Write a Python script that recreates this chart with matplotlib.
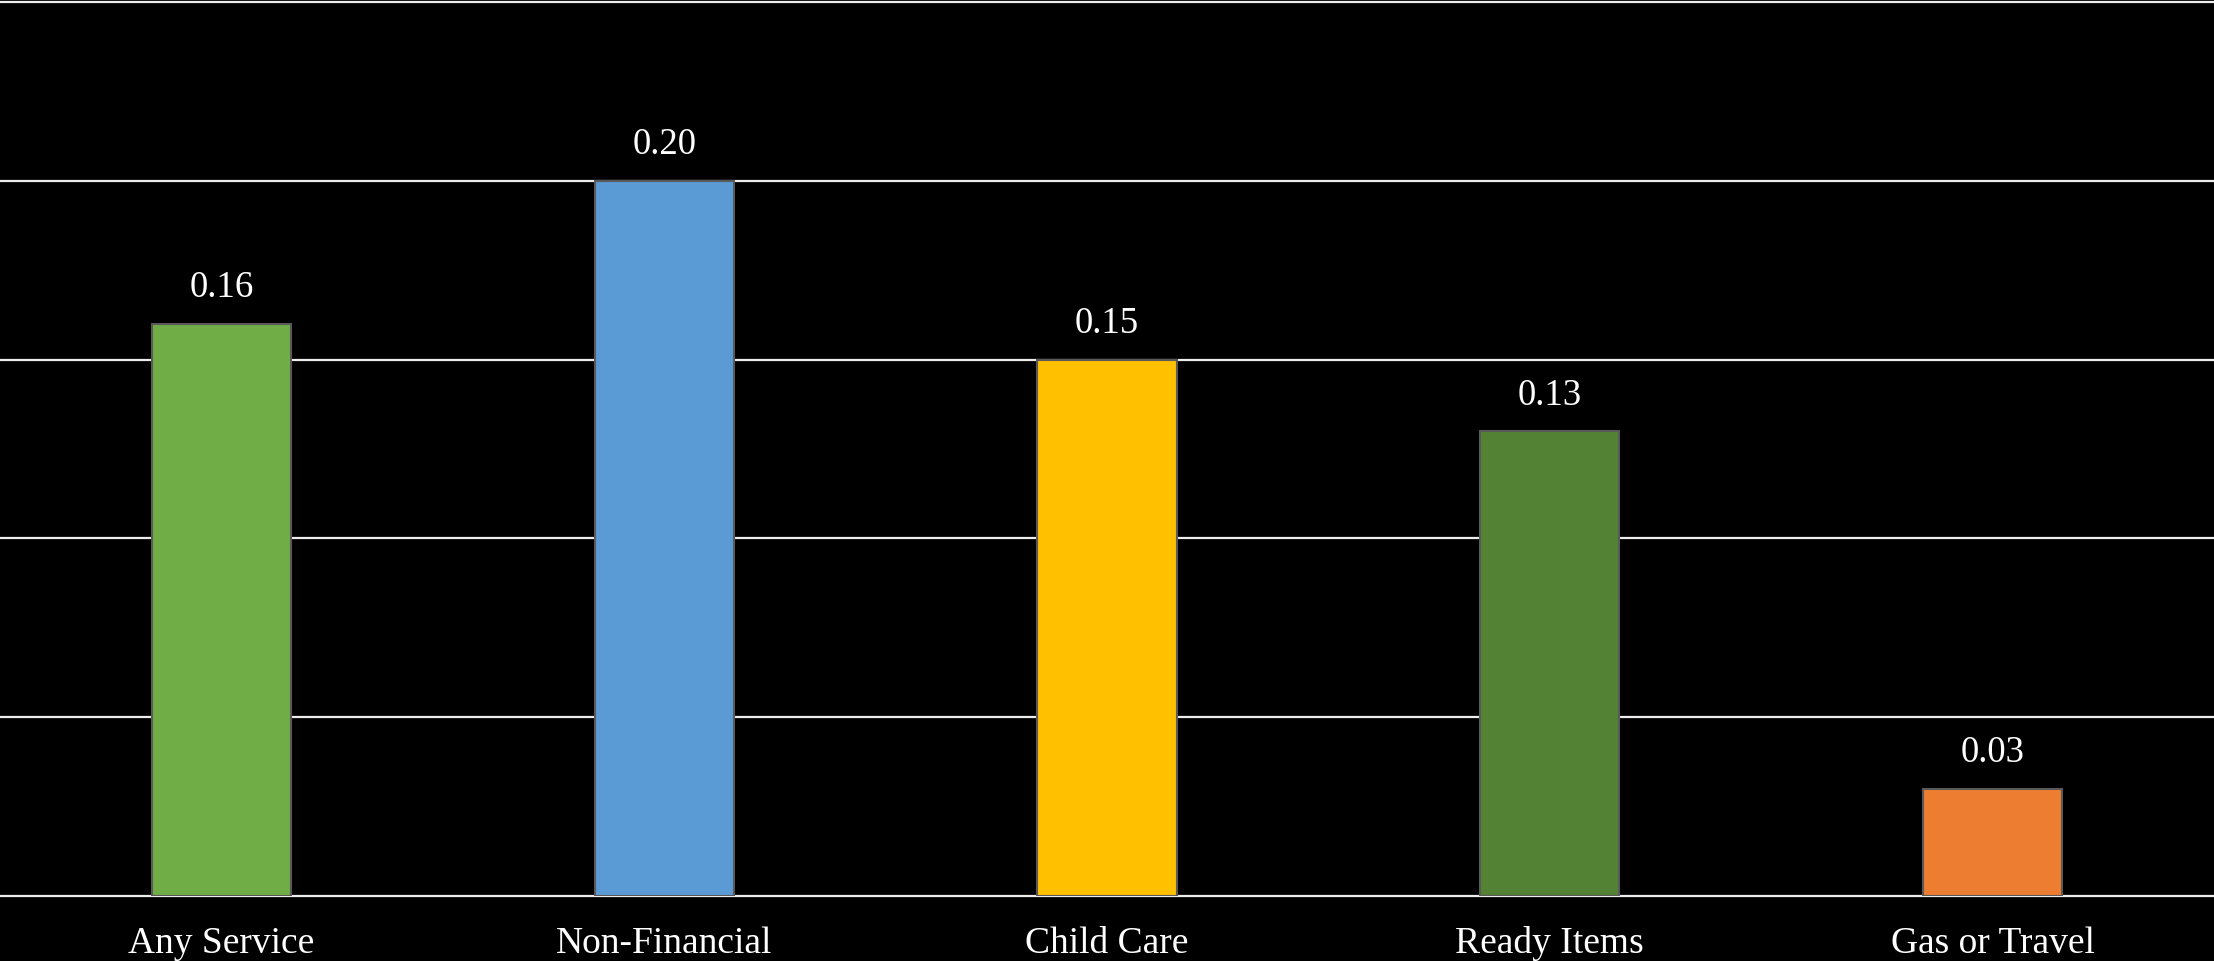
import matplotlib
matplotlib.use("Agg")
import matplotlib.pyplot as plt

categories = ["Any Service", "Non-Financial", "Child Care", "Ready Items", "Gas or Travel"]
values = [0.16, 0.20, 0.15, 0.13, 0.03]
colors = ["#70AD47", "#5B9BD5", "#FFC000", "#548235", "#ED7D31"]
grid_ticks = [0.0, 0.05, 0.10, 0.15, 0.20, 0.25]

plt.rcParams["font.family"] = ["Liberation Serif", "DejaVu Serif"]

fig = plt.figure(figsize=(22.14, 9.62), dpi=100, facecolor="black")
ax = fig.add_axes([0.0, 1 - 897 / 962, 1.0, (897 - 3) / 962])
ax.set_facecolor("black")

x = range(len(categories))
bars = ax.bar(x, values, width=0.314, color=colors, edgecolor="#595959", linewidth=1.5, zorder=3)

for b, v in zip(bars, values):
    ax.annotate(f"{v:.2f}", (b.get_x() + b.get_width() / 2, b.get_height()),
                xytext=(0, 14), textcoords="offset points",
                ha="center", va="bottom", color="white", fontsize=26.5)

ax.set_xlim(-0.5, len(categories) - 0.5)
ax.set_ylim(0, 0.25)
ax.set_yticks(grid_ticks)
ax.yaxis.grid(True, color="#EDEDED", linewidth=1.6, zorder=0)
for gl in ax.get_ygridlines():
    gl.set_clip_on(False)
ax.set_yticklabels([])
ax.tick_params(axis="y", length=0)
ax.set_xticks(list(x))
ax.set_xticklabels(categories, color="white", fontsize=27)
ax.tick_params(axis="x", length=0, pad=21)
for s in ax.spines.values():
    s.set_visible(False)

fig.savefig("out.png", dpi=100, facecolor="black")
